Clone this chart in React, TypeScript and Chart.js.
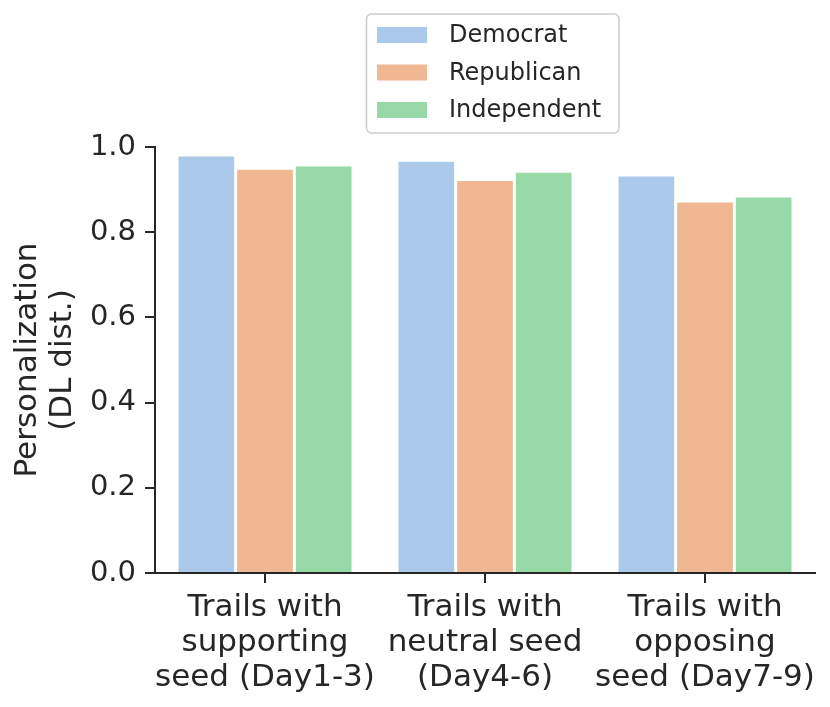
import { useEffect, useRef } from "react";
import { Chart, registerables } from "chart.js";

Chart.register(...registerables);

const categories = [
  ["Trails with", "supporting", "seed (Day1-3)"],
  ["Trails with", "neutral seed", "(Day4-6)"],
  ["Trails with", "opposing", "seed (Day7-9)"],
];
const democrat = [0.981, 0.969, 0.934];
const republican = [0.95, 0.924, 0.873];
const independent = [0.958, 0.943, 0.885];
const yTicks = [0, 0.2, 0.4, 0.6, 0.8, 1.0];

const INK = "#262626";
const FONT = "'DejaVu Sans', sans-serif";

// boxed legend like matplotlib's, drawn above the axes
const boxLegend = {
  id: "boxLegend",
  afterDraw(chart: Chart) {
    const ctx = chart.ctx;
    const x = 366.5;
    const y = 14;
    const w = 252.5;
    const h = 119;
    ctx.save();
    ctx.beginPath();
    ctx.roundRect(x, y, w, h, 5);
    ctx.fillStyle = "rgba(255,255,255,0.8)";
    ctx.fill();
    ctx.lineWidth = 1.5;
    ctx.strokeStyle = "#cccccc";
    ctx.stroke();
    ctx.font = "24px " + FONT;
    ctx.textBaseline = "middle";
    chart.data.datasets.forEach((ds, i) => {
      const cy = 35 + i * 37.5;
      ctx.fillStyle = ds.backgroundColor as string;
      ctx.fillRect(377, cy - 8, 50, 16);
      ctx.fillStyle = INK;
      ctx.fillText(ds.label as string, 449, cy + 1);
    });
    ctx.restore();
  },
};

export default function App() {
  const canvasRef = useRef<HTMLCanvasElement | null>(null);

  useEffect(() => {
    if (!canvasRef.current) return;
    const chart = new Chart(canvasRef.current, {
      type: "bar",
      data: {
        labels: categories,
        datasets: [
          { label: "Democrat", data: democrat, backgroundColor: "#abc9ea" },
          { label: "Republican", data: republican, backgroundColor: "#efb792" },
          { label: "Independent", data: independent, backgroundColor: "#98daa7" },
        ],
      },
      options: {
        animation: false,
        responsive: true,
        maintainAspectRatio: false,
        layout: { padding: { top: 147, right: 15, left: 0, bottom: 0 } },
        datasets: {
          bar: {
            categoryPercentage: 0.8,
            barPercentage: 1.0,
            borderColor: "#ffffff",
            borderWidth: 1.5,
          },
        },
        plugins: {
          legend: { display: false },
          tooltip: { enabled: false },
        },
        scales: {
          x: {
            afterFit: (scale) => {
              scale.height = 134;
            },
            grid: {
              offset: false,
              drawOnChartArea: false,
              drawTicks: true,
              tickLength: 10,
              color: INK,
              lineWidth: 2,
            },
            border: { display: true, color: INK, width: 2 },
            ticks: {
              color: INK,
              padding: 7,
              maxRotation: 0,
              autoSkip: false,
              font: { family: FONT, size: 31, lineHeight: 1.13 },
            },
          },
          y: {
            min: 0,
            max: 1,
            afterFit: (scale) => {
              scale.width = 155;
            },
            afterBuildTicks: (scale) => {
              scale.ticks = yTicks.map((v) => ({ value: v }));
            },
            grid: {
              drawOnChartArea: false,
              drawTicks: true,
              tickLength: 10,
              color: INK,
              lineWidth: 2,
            },
            border: { display: true, color: INK, width: 2 },
            ticks: {
              color: INK,
              padding: 9,
              font: { family: FONT, size: 29 },
              callback: (v) => Number(v).toFixed(1),
            },
            title: {
              display: true,
              text: ["Personalization", "(DL dist.)"],
              color: INK,
              padding: { top: 10, bottom: 0 },
              font: { family: FONT, size: 31, lineHeight: 1.13 },
            },
          },
        },
      },
      plugins: [boxLegend],
    });
    return () => chart.destroy();
  }, []);

  return (
    <div style={{ position: "fixed", left: 0, top: 0, width: 830, height: 707, background: "#ffffff" }}>
      <canvas ref={canvasRef}></canvas>
    </div>
  );
}
